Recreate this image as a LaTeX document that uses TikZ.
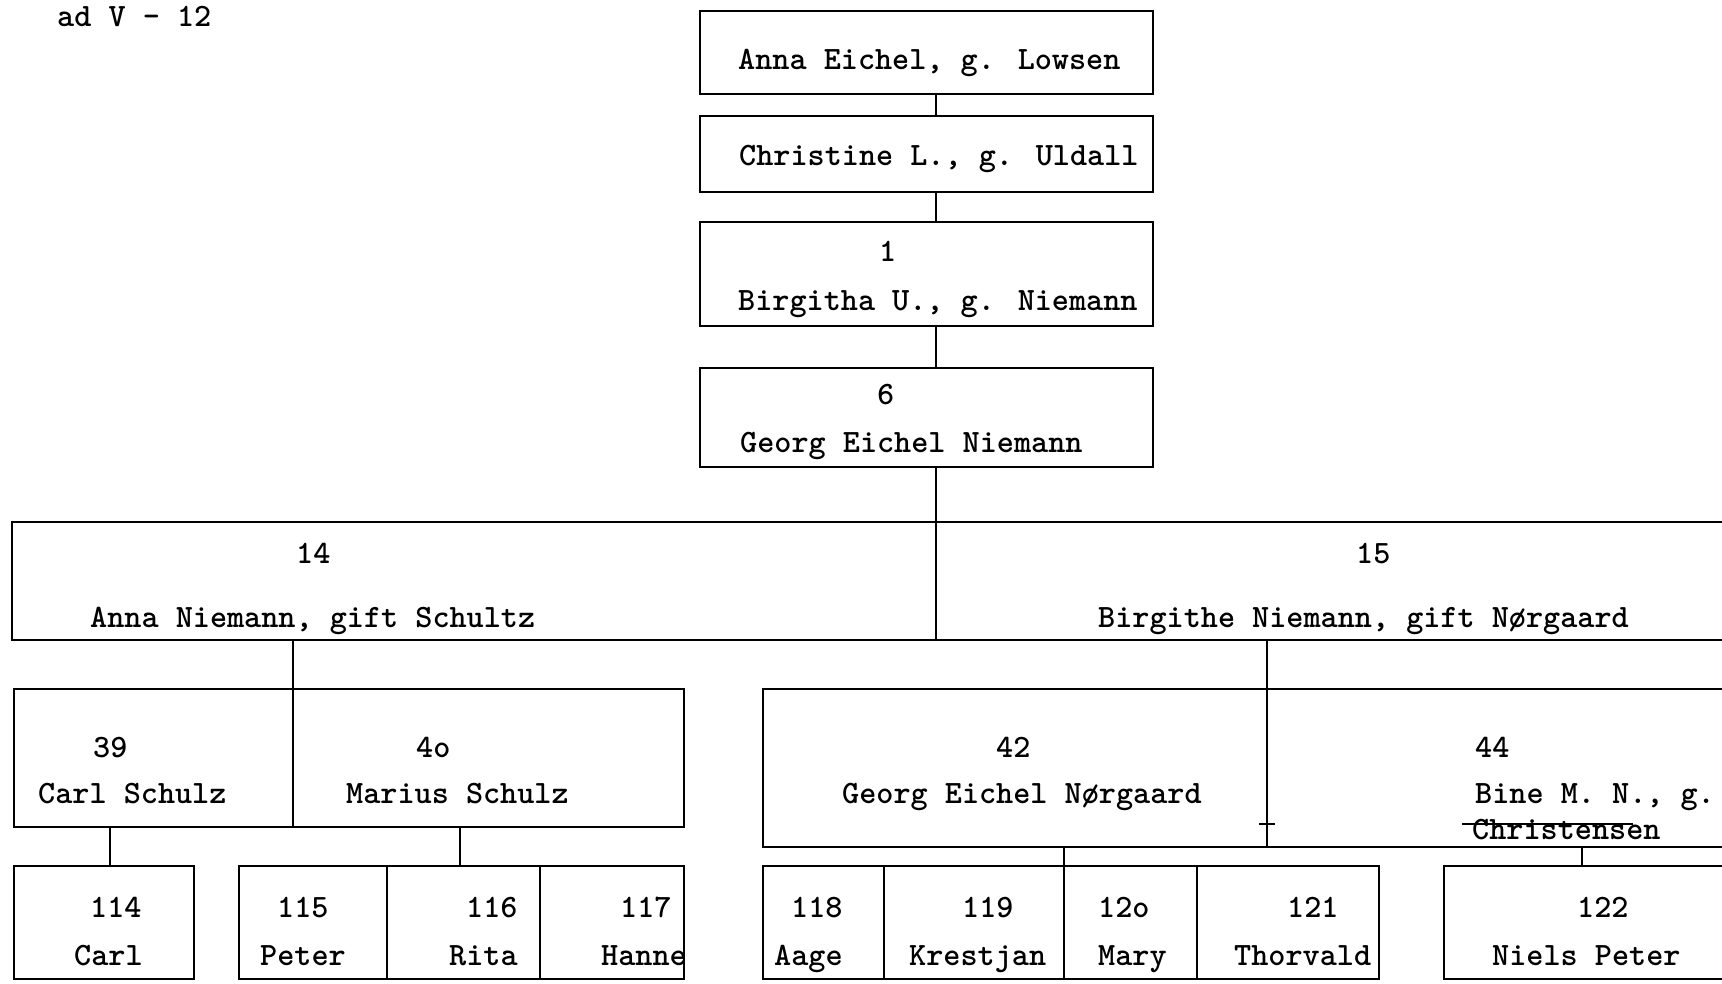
\documentclass[tikz,border=0pt]{standalone}
\usepackage{fontspec}
\usetikzlibrary{fit}
\begin{document}
\begin{tikzpicture}[x=1pt,y=-1pt,
  box/.style={draw, line width=2.5pt, inner sep=0pt, rectangle},
  ln/.style={line width=2.5pt},
  tx/.style={anchor=base west, inner sep=0pt, font=\ttfamily\bfseries\fontsize{32.6}{34}\selectfont}]
\useasboundingbox (0,0) rectangle (1722,983);
\clip (0,0) rectangle (1722,983);
\fill[white] (0,0) rectangle (1722,983);
% boxes
\node[box, fit={(700,11)(1153,94)}] (bA) {};
\node[box, fit={(700,116)(1153,192)}] (bC) {};
\node[box, fit={(700,222)(1153,326)}] (bB) {};
\node[box, fit={(700,368)(1153,467)}] (bG) {};
\node[box, fit={(12,522)(1740,640)}] (bR1) {};
\node[box, fit={(14,689)(684,827)}] (bR2a) {};
\node[box, fit={(763,689)(1740,847)}] (bR2b) {};
\node[box, fit={(14,866)(194,979)}] (bR3a) {};
\node[box, fit={(239,866)(684,979)}] (bR3b) {};
\node[box, fit={(763,866)(1379,979)}] (bR3c) {};
\node[box, fit={(1444,866)(1740,979)}] (bR3d) {};
% connector columns
\coordinate (x0) at (936,0);
\coordinate (x1) at (293,0);
\coordinate (x2) at (110,0);
\coordinate (x3) at (460,0);
\coordinate (x4) at (1267,0);
\coordinate (x5) at (1064,0);
\coordinate (x6) at (1582,0);
\coordinate (d1) at (387,0);
\coordinate (d2) at (540,0);
\coordinate (d3) at (884,0);
\coordinate (d4) at (1197,0);
\coordinate (tk) at (1267,824);
\draw[ln] (x0 |- bA.south) -- (x0 |- bC.north);
\draw[ln] (x0 |- bC.south) -- (x0 |- bB.north);
\draw[ln] (x0 |- bB.south) -- (x0 |- bG.north);
\draw[ln] (x0 |- bG.south) -- (x0 |- bR1.south);
\draw[ln] (x1 |- bR1.south) -- (x1 |- bR2a.south);
\draw[ln] (x2 |- bR2a.south) -- (x2 |- bR3a.north);
\draw[ln] (x3 |- bR2a.south) -- (x3 |- bR3b.north);
\draw[ln] (d1 |- bR3b.north) -- (d1 |- bR3b.south);
\draw[ln] (d2 |- bR3b.north) -- (d2 |- bR3b.south);
\draw[ln] (x4 |- bR1.south) -- (x4 |- bR2b.south);
\draw[ln] ([xshift=-8pt]tk) -- ([xshift=8pt]tk);
\draw[ln] (x5 |- bR2b.south) -- (x5 |- bR3c.south);
\draw[ln] (d3 |- bR3c.north) -- (d3 |- bR3c.south);
\draw[ln] (d4 |- bR3c.north) -- (d4 |- bR3c.south);
\draw[ln] (x6 |- bR2b.south) -- (x6 |- bR3d.north);
% texts
\node[tx] (t0) at (57,26) {ad V - 12};
\node[tx] (tA) at (738,69) {Anna Eichel, g. Lowsen};
\node[tx] (tC) at (739,165) {Christine L., g. Uldall};
\node[tx] (tBn) at (879,261) {1};
\node[tx] (tB) at (738,310) {Birgitha U., g. Niemann};
\node[tx] (tGn) at (877,404) {6};
\node[tx] (tG) at (740,452) {Georg Eichel Niemann};
\node[tx] (t14n) at (296,563) {14};
\node[tx] (t14) at (90,627) {Anna Niemann, gift Schultz};
\node[tx] (t15n) at (1356,563) {15};
\node[tx] (t15) at (1098,627) {Birgithe Niemann, gift Nørgaard};
\node[tx] (t39n) at (93,757) {39};
\node[tx] (t39) at (38,803) {Carl Schulz};
\node[tx] (t40n) at (416,757) {4o};
\node[tx] (t40) at (346,803) {Marius Schulz};
\node[tx] (t42n) at (996,757) {42};
\node[tx] (t42) at (842,803) {Georg Eichel Nørgaard};
\node[tx] (t44n) at (1475,757) {44};
\node[tx] (t44) at (1475,803) {Bine M. N., g.};
\node[tx] (t44b) at (1472,839) {Christensen};
\draw[ln] (1462,824) -- (1633,824);
\node[tx] (t114n) at (90,917) {114};
\node[tx] (t114) at (74,965) {Carl};
\node[tx] (t115n) at (277,917) {115};
\node[tx] (t115) at (260,965) {Peter};
\node[tx] (t116n) at (466,917) {116};
\node[tx] (t116) at (449,965) {Rita};
\node[tx] (t117n) at (620,917) {117};
\node[tx] (t117) at (601,965) {Hanne};
\node[tx] (t118n) at (791,917) {118};
\node[tx] (t118) at (774,965) {Aage};
\node[tx] (t119n) at (962,917) {119};
\node[tx] (t119) at (909,965) {Krestjan};
\node[tx] (t120n) at (1098,917) {12o};
\node[tx] (t120) at (1098,965) {Mary};
\node[tx] (t121n) at (1287,917) {121};
\node[tx] (t121) at (1234,965) {Thorvald};
\node[tx] (t122n) at (1577,917) {122};
\node[tx] (t122) at (1492,965) {Niels Peter};
\end{tikzpicture}
\end{document}
